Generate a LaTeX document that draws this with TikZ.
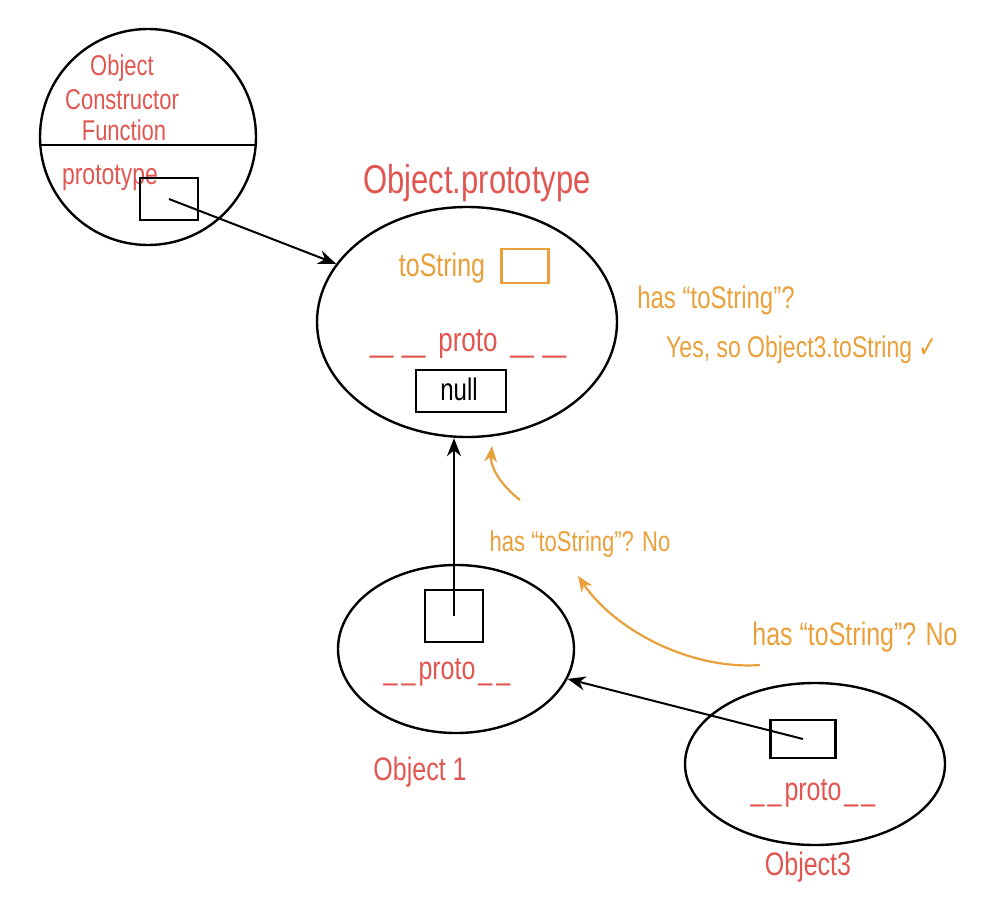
\documentclass[tikz,border=0pt]{standalone}
\usepackage{graphicx}
\usepackage{fontspec}
\setmainfont{Liberation Sans}
\newfontfamily\symfont{DejaVu Sans}
\usetikzlibrary{shapes.geometric,arrows.meta,calc}
\definecolor{hred}{RGB}{226,86,82}
\definecolor{horange}{RGB}{234,160,58}
\newcommand\tall[1]{\scalebox{1}[1.3]{#1}}
\newcommand\wdash{\scalebox{1.6}[1]{\_}}
\tikzset{
  obj/.style={draw=black, line width=2.4pt, ellipse, inner sep=0pt},
  slot/.style={draw=black, line width=2.2pt, inner sep=0pt},
  redtxt/.style={text=hred, inner sep=0pt, font=\fontsize{#1}{#1}\selectfont},
  ortxt/.style={text=horange, inner sep=0pt, font=\fontsize{#1}{#1}\selectfont},
  ptr/.style={line width=2pt, -{Stealth[length=18pt,width=14pt]}},
  optr/.style={draw=horange, line width=2.2pt, -{Stealth[length=16pt,width=13pt]}},
}
\begin{document}
\begin{tikzpicture}[x=1pt,y=-1pt]
\useasboundingbox (0,0) rectangle (982,912);
% constructor
\node[draw=black, line width=2.4pt, circle, minimum size=216pt, inner sep=0pt] (ctor) at (148,137) {};
\draw[line width=2.2pt] ($(ctor.center)+(-107.7,8)$) -- ($(ctor.center)+(107.7,8)$);
\node[redtxt=22] (t1) at (122,68) {\tall{Object}};
\node[redtxt=22] (t2) at (122,100) {\tall{Constructor}};
\node[redtxt=22] (t3) at (124,130) {\tall{Function}};
\node[redtxt=23] (tproto) at (110,178) {\tall{prototype}};
\node[slot, minimum width=58pt, minimum height=42pt] (cbox) at (169,199) {};
% Object.prototype
\node[redtxt=31] (optitle) at (477,183) {\tall{Object.prototype}};
\node[obj, minimum width=300pt, minimum height=230pt] (op) at (467,322) {};
\node[ortxt=25] (tostr) at (442,268) {\tall{toString}};
\node[draw=horange, line width=2.2pt, minimum width=47pt, minimum height=34pt, inner sep=0pt] (tsbox) at (525,266) {};
\node[redtxt=26] (opproto) at (468,344) {\tall{\wdash\hspace{9pt}\wdash\hspace{13pt}proto\hspace{13pt}\wdash\hspace{9pt}\wdash}};
\node[slot, minimum width=90pt, minimum height=42pt] (nullbox) at (461,391) {};
\node[inner sep=0pt, font=\fontsize{24}{24}\selectfont] (nulltxt) at (459,389) {\tall{null}};
% Object1
\node[obj, minimum width=236pt, minimum height=168pt] (o1) at (456,649) {};
\node[slot, minimum width=58pt, minimum height=52pt] (o1box) at (454,616) {};
\node[redtxt=25] (o1proto) at (447,672) {\tall{\_\hspace{4pt}\_\hspace{3pt}proto\hspace{3pt}\_\hspace{4pt}\_}};
\node[redtxt=25] (o1name) at (420,772) {\tall{Object 1}};
% Object3
\node[obj, minimum width=260pt, minimum height=162pt] (o3) at (815,764) {};
\node[slot, minimum width=65pt, minimum height=38pt] (o3box) at (803,739) {};
\node[redtxt=25] (o3proto) at (813,793) {\tall{\_\hspace{3pt}\_\hspace{3pt}proto\hspace{3pt}\_\hspace{3pt}\_}};
\node[redtxt=25] (o3name) at (808,867) {\tall{Object3}};
% pointers
\draw[ptr] (cbox.center) -- (op.156);
\draw[ptr] (o1box.center) -- (o1box.center |- op.south);
\draw[ptr] (o3box.center) -- (o1.-15);
% orange notes
\node[ortxt=24] (q1) at (716,300) {\tall{has “toString”?}};
\node[ortxt=23] (a1) at (802,350) {\tall{Yes, so Object3.toString {\symfont ✓}}};
\node[ortxt=22] (q2) at (580,544) {\tall{has “toString”? No}};
\node[ortxt=25] (q3) at (855,637) {\tall{has “toString”? No}};
\coordinate (ta) at (520,500);
\coordinate (ha) at (492,446);
\coordinate (tb) at (760,665);
\coordinate (hb) at (578,576);
\draw[optr] (ta) .. controls (502,486) and (490,468) .. (ha);
\draw[optr] (tb) .. controls (690,670) and (615,630) .. (hb);
\end{tikzpicture}
\end{document}
